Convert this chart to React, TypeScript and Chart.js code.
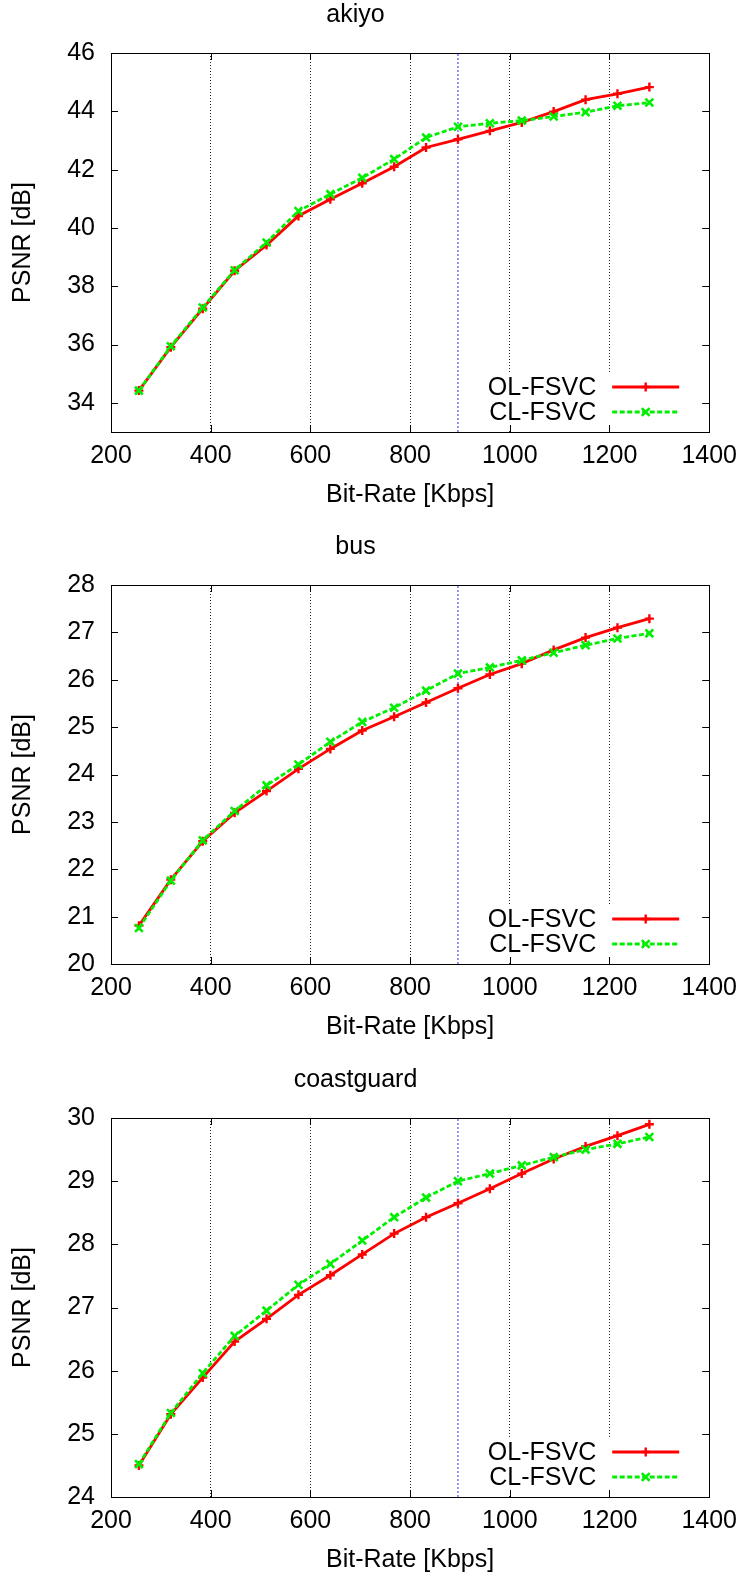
import React, { useEffect, useRef } from "react";
import { Chart, registerables } from "chart.js";
import { drawPoint } from "chart.js/helpers";

Chart.register(...registerables);

// ---- data ----
const bitRates = [256, 320, 384, 448, 512, 576, 640, 704, 768, 832, 896, 960, 1024, 1088, 1152, 1216, 1280];

const akiyoOL = [34.42, 35.91, 37.23, 38.53, 39.41, 40.41, 40.98, 41.53, 42.10, 42.76, 43.04, 43.33, 43.62, 43.99, 44.40, 44.60, 44.83];
const akiyoCL = [34.42, 35.94, 37.27, 38.55, 39.50, 40.58, 41.16, 41.72, 42.36, 43.10, 43.47, 43.59, 43.68, 43.82, 43.97, 44.19, 44.30];

const busOL = [20.81, 21.78, 22.59, 23.19, 23.65, 24.12, 24.54, 24.93, 25.22, 25.52, 25.82, 26.11, 26.34, 26.63, 26.89, 27.10, 27.29];
const busCL = [20.76, 21.76, 22.61, 23.23, 23.77, 24.21, 24.69, 25.11, 25.41, 25.77, 26.13, 26.26, 26.41, 26.57, 26.73, 26.87, 26.98];

const coastOL = [24.50, 25.31, 25.89, 26.46, 26.82, 27.20, 27.51, 27.84, 28.17, 28.43, 28.65, 28.88, 29.12, 29.35, 29.55, 29.72, 29.90];
const coastCL = [24.52, 25.33, 25.96, 26.55, 26.95, 27.36, 27.69, 28.06, 28.43, 28.74, 29.00, 29.12, 29.25, 29.38, 29.50, 29.59, 29.70];

const seriesNames = ["OL-FSVC", "CL-FSVC"];
const markerRate = 896;
const xMin = 200;
const xMax = 1400;
const xStep = 200;

const panels = [
  { title: "akiyo", ol: akiyoOL, cl: akiyoCL, yMin: 33, yMax: 46, yStep: 2, yFirst: 34, height: 532 },
  { title: "bus", ol: busOL, cl: busCL, yMin: 20, yMax: 28, yStep: 1, yFirst: 20, height: 533 },
  { title: "coastguard", ol: coastOL, cl: coastCL, yMin: 24, yMax: 30, yStep: 1, yFirst: 24, height: 510 },
];

const FAMILY = "'Liberation Sans', Arial, Helvetica, sans-serif";
const FS = 25;
const FONT = { family: FAMILY, size: FS, weight: "normal" as const, lineHeight: 1.2 };
const HALF = (FS * 1.2) / 2;

const gnuPlugin = {
  id: "gnuframe",
  beforeDatasetsDraw(chart: any) {
    const { ctx, chartArea: a } = chart;
    ctx.save();
    ctx.fillStyle = "#ffffff";
    ctx.fillRect(a.right - 231, a.bottom - 59, 221, 58);
    ctx.restore();
  },
  afterDraw(chart: any) {
    const { ctx, chartArea: a } = chart;
    const xs = chart.scales.x;
    const ys = chart.scales.y;
    ctx.save();
    ctx.strokeStyle = "#000";
    ctx.lineWidth = 1;
    ctx.setLineDash([]);
    // tick marks (inward, mirrored)
    const tl = 7;
    ctx.beginPath();
    ys.ticks.forEach((t: any) => {
      const y = Math.round(ys.getPixelForValue(t.value)) + 0.5;
      ctx.moveTo(a.left, y);
      ctx.lineTo(a.left + tl, y);
      ctx.moveTo(a.right, y);
      ctx.lineTo(a.right - tl, y);
    });
    xs.ticks.forEach((t: any) => {
      const x = Math.round(xs.getPixelForValue(t.value)) + 0.5;
      ctx.moveTo(x, a.bottom);
      ctx.lineTo(x, a.bottom - tl);
      ctx.moveTo(x, a.top);
      ctx.lineTo(x, a.top + tl);
    });
    ctx.stroke();
    // frame
    ctx.strokeRect(Math.round(a.left) + 0.5, Math.round(a.top) + 0.5, Math.round(a.right - a.left), Math.round(a.bottom - a.top));

    // key
    ctx.font = `${FS}px ${FAMILY}`;
    ctx.textAlign = "right";
    ctx.textBaseline = "middle";
    const rows = [a.bottom - 45, a.bottom - 20];
    for (let i = 0; i < 2; i++) {
      const ds = chart.data.datasets[i];
      const y = rows[i];
      ctx.fillStyle = "#000";
      ctx.fillText(seriesNames[i], a.right - 113, y + 1);
      ctx.strokeStyle = ds.borderColor;
      ctx.lineWidth = ds.borderWidth;
      ctx.setLineDash(ds.borderDash || []);
      ctx.beginPath();
      ctx.moveTo(a.right - 97, y);
      ctx.lineTo(a.right - 30, y);
      ctx.stroke();
      ctx.setLineDash([]);
      ctx.lineWidth = ds.pointBorderWidth;
      drawPoint(ctx, { pointStyle: ds.pointStyle, radius: ds.pointRadius, rotation: 0, borderWidth: ds.pointBorderWidth }, a.right - 63.5, y);
    }
    ctx.restore();
  },
};

function Panel({ p }: { p: (typeof panels)[number] }) {
  const ref = useRef<HTMLCanvasElement | null>(null);
  useEffect(() => {
    if (!ref.current) return;
    const xTitlePad = Math.max(0, p.height - HALF - 495);
    const chart = new Chart(ref.current, {
      type: "line",
      data: {
        datasets: [
          {
            label: seriesNames[0],
            data: bitRates.map((x, i) => ({ x, y: p.ol[i] })),
            borderColor: "#ff0000",
            backgroundColor: "#ff0000",
            borderWidth: 2.8,
            pointStyle: "cross",
            pointRadius: 4.5,
            pointBorderWidth: 2.4,
            pointBorderColor: "#ff0000",
            fill: false,
            tension: 0,
            order: 2,
          } as any,
          {
            label: seriesNames[1],
            data: bitRates.map((x, i) => ({ x, y: p.cl[i] })),
            borderColor: "#00ee00",
            backgroundColor: "#00ee00",
            borderWidth: 2.8,
            borderDash: [5, 2.5],
            pointStyle: "crossRot",
            pointRadius: 5.5,
            pointBorderWidth: 2.6,
            pointBorderColor: "#00ee00",
            fill: false,
            tension: 0,
            order: 1,
          } as any,
          {
            label: "marker",
            data: [
              { x: markerRate, y: p.yMin },
              { x: markerRate, y: p.yMax },
            ],
            borderColor: "#2233ff",
            borderWidth: 1,
            borderDash: [2, 2],
            pointRadius: 0,
            fill: false,
            order: 3,
          } as any,
        ],
      },
      options: {
        responsive: false,
        animation: false,
        devicePixelRatio: 1,
        events: [],
        layout: { padding: { left: 0, right: 35, top: 0, bottom: 0 } },
        plugins: {
          legend: { display: false },
          tooltip: { enabled: false },
          title: {
            display: true,
            text: p.title,
            color: "#000",
            font: FONT,
            padding: { top: 15 - HALF, bottom: 53 - 15 - HALF },
          },
        },
        scales: {
          x: {
            type: "linear",
            min: xMin,
            max: xMax,
            afterFit: (s: any) => {
              s.height = p.height - 432;
            },
            ticks: {
              stepSize: xStep,
              color: "#000",
              font: FONT,
              padding: 456 - 432 - HALF,
              maxRotation: 0,
              autoSkip: false,
              callback: (v: any) => String(v),
            },
            grid: {
              drawTicks: false,
              lineWidth: 1,
              color: (c: any) =>
                c.tick && (c.tick.value === xMin || c.tick.value === xMax) ? "rgba(0,0,0,0)" : "rgba(0,0,0,0.85)",
            },
            border: { display: false, dash: [1, 2] },
            title: {
              display: true,
              text: "Bit-Rate [Kbps]",
              color: "#000",
              font: FONT,
              padding: { top: 0, bottom: xTitlePad },
            },
          },
          y: {
            type: "linear",
            min: p.yMin,
            max: p.yMax,
            afterFit: (s: any) => {
              s.width = 111;
            },
            afterBuildTicks: (s: any) => {
              const t: any[] = [];
              for (let v = p.yFirst; v <= p.yMax + 1e-9; v += p.yStep) t.push({ value: v });
              s.ticks = t;
            },
            ticks: { color: "#000", font: FONT, padding: 16, callback: (v: any) => String(v) },
            grid: { display: false, drawTicks: false },
            border: { display: false },
            title: {
              display: true,
              text: "PSNR [dB]",
              color: "#000",
              font: FONT,
              padding: { top: 23.5 - HALF, bottom: 0 },
            },
          },
        },
      } as any,
      plugins: [gnuPlugin],
    });
    return () => chart.destroy();
  }, [p]);
  return <canvas ref={ref} width={746} height={p.height} style={{ display: "block", width: 746, height: p.height }} />;
}

export default function App() {
  return (
    <div style={{ position: "absolute", left: 0, top: 0, width: 746, background: "#fff" }}>
      {panels.map((p) => (
        <Panel key={p.title} p={p} />
      ))}
    </div>
  );
}
